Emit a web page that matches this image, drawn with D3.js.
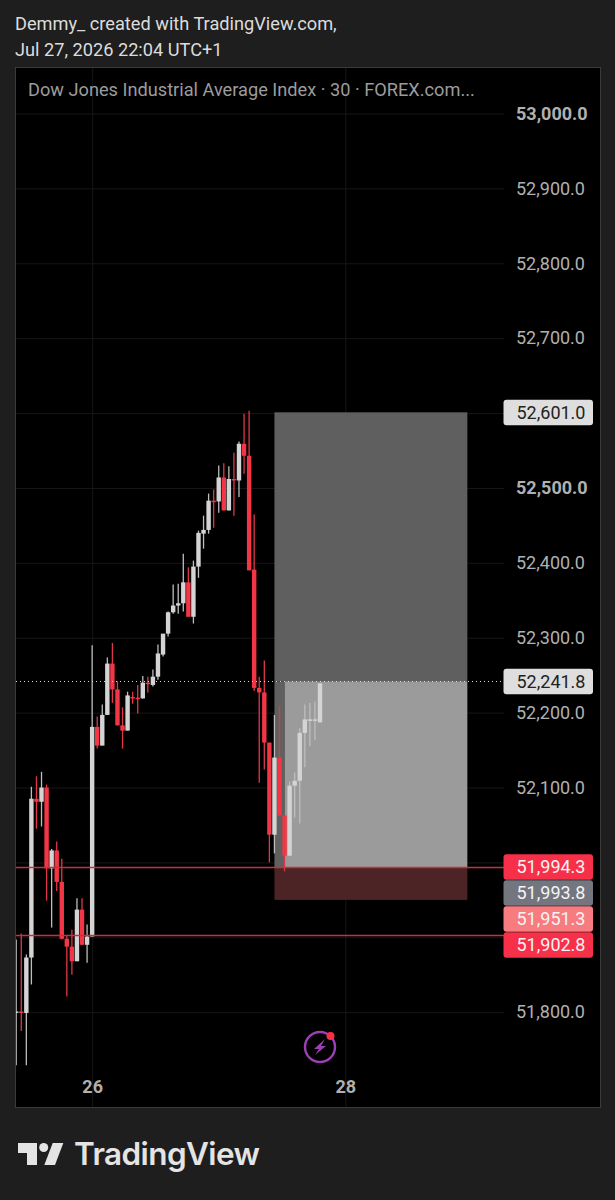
<!DOCTYPE html>
<html>
<head>
<meta charset="utf-8">
<script src="https://cdn.jsdelivr.net/npm/d3@7"></script>
<style>
html, body { margin: 0; padding: 0; background: #1e1e1e; }
svg { display: block; }
text { font-family: Roboto, sans-serif; }
</style>
</head>
<body>
<svg id="chart" width="615" height="1200"></svg>
<script>
// candles (30 min bars)
var open  = [51799,51801,51799,51873,52085,52081,52100,51992,52016,51974,51898,51887.5,51868,51937,51890,51901,52181,52156,52197,52265.5,52231,52183,52176,52221,52220,52219,52240,52237,52248,52277.5,52305.5,52334,52343,52346,52374,52328,52395,52439,52444,52483,52482,52514,52470,52512,52510,52559,52543,52391,52233,52227,52160,52037,52140,52062.5,52009,52102.5,52109,52173,52191,52191,52187];
var high  = [51897,51905,51877,52101,52115,52121,52104,52018,52028,52005,51902,51910,51952,51952,51917,52290,52195,52211,52273.5,52293,52242,52207,52228,52228,52237,52249,52248,52257.5,52291,52293,52335,52371,52372,52412,52394,52403,52443,52463,52492.5,52498,52530,52533,52529,52547,52562,52599,52603,52464.5,52248,52269.5,52160,52197,52209,52062.5,52108,52120,52179,52211,52213,52215,52239];
var low   = [51729,51775,51729,51837,52045,52048,51949,51913,51962,51897,51821,51850,51868,51890,51866,51901,52152,52156,52197,52213,52183,52152,52176,52212,52199,52219,52227,52235,52244,52275,52301.5,52332,52332,52335,52328,52319,52380,52419,52439,52447,52467,52470,52470,52463,52488,52519,52390,52229,52106.5,52124,52000,52012,52062.5,51988,52009,52060,52052,52127,52155,52163,52187];
var close = [51801,51799,51873,52085,52081,52100,51992,52016,51974,51898,51887.5,51868,51937,51890,51901,52181,52156,52197,52265.5,52231,52183,52176,52223,52220,52219,52240,52239,52248,52279,52305.5,52334,52343,52346,52374,52328,52395,52440,52444,52483,52482,52514,52470,52512,52510,52559,52543,52390,52233,52227,52160,52037,52140,52062.5,52009,52102.5,52109,52173,52191,52191,52191,52239];

var priceTicks = [53000,52900,52800,52700,52600,52500,52400,52300,52200,52100,52000,51900,51800];
var priceLabels = [53000,52900,52800,52700,52500,52400,52300,52200,52100,51800];
var boldPrices = [53000,52500];
var timeTicks = [15,65];
var timeLabels = ["26","28"];

var targetPrice = 52601.0, lastPrice = 52241.8, stopLine = 51994.3, stopPrice = 51951.3, lowLine = 51902.8;
var boxStart = 51.0, fillStart = 53.0, boxEnd = 89.1;

// stacked tags on the price axis: value, background, text colour
var tagValues = [52601.0,52241.8,51994.3,51993.8,51951.3,51902.8];
var tagFills  = ["#dedede","#dedede","#f7304a","#73767f","#f77c80","#f7304a"];
var tagInks   = ["#222222","#222222","#f4f4f4","#f4f4f4","#f4f4f4","#f4f4f4"];

var svg = d3.select("#chart");
var fmt = d3.format(",.1f");

var x = d3.scaleLinear().domain([0,60]).range([16.2,320]);
var y = d3.scaleLinear().domain([53000,51800]).range([113.5,1012.2]);

/*	header */
svg.append("text").attr("x",15).attr("y",30).attr("fill","#dcdcdc").style("font-size","18.2px").text("Demmy_ created with TradingView.com,");
svg.append("text").attr("x",15).attr("y",56).attr("fill","#dcdcdc").style("font-size","18.2px").text("Jul 27, 2026 22:04 UTC+1");

/*	pane */
svg.append("rect").attr("x",15.5).attr("y",67.5).attr("width",585).attr("height",1040).attr("fill","#000").attr("stroke","#3a3a3a");

var clip = svg.append("clipPath").attr("id","pane").append("rect").attr("x",16).attr("y",68).attr("width",488).attr("height",1039);
var plot = svg.append("g").attr("clip-path","url(#pane)");

/*	grid, drawn from axes with long ticks */
var gridY = plot.append("g").attr("transform","translate(16,0)")
	.call(d3.axisRight(y).tickValues(priceTicks).tickSize(488).tickFormat(""));
gridY.select(".domain").remove();
gridY.selectAll("line").attr("stroke","#161616");

var gridX = plot.append("g").attr("transform","translate(0,1107)")
	.call(d3.axisTop(x).tickValues(timeTicks).tickSize(1039).tickFormat(""));
gridX.select(".domain").remove();
gridX.selectAll("line").attr("stroke","#161616");

/*	position tool */
plot.append("rect").attr("x",x(boxStart)).attr("width",x(boxEnd)-x(boxStart))
	.attr("y",y(targetPrice)).attr("height",y(lastPrice)-y(targetPrice)).attr("fill","#5f5f5f");
plot.append("rect").attr("x",x(boxStart)).attr("width",x(fillStart)-x(boxStart))
	.attr("y",y(lastPrice)).attr("height",y(stopLine)-y(lastPrice)+1).attr("fill","#606060");
plot.append("rect").attr("x",x(fillStart)).attr("width",x(boxEnd)-x(fillStart))
	.attr("y",y(lastPrice)).attr("height",y(stopLine)-y(lastPrice)+1).attr("fill","#9b9b9b");
plot.append("rect").attr("x",x(boxStart)).attr("width",x(boxEnd)-x(boxStart))
	.attr("y",y(stopLine)+1).attr("height",y(stopPrice)-y(stopLine)).attr("fill","#4c2426");

/*	candles */
var bars = d3.range(open.length);
var up = function(i) { return close[i] >= open[i]; };

plot.append("g").selectAll("line").data(bars).join("line")
	.attr("x1",function(i) { return x(i); })
	.attr("x2",function(i) { return x(i); })
	.attr("y1",function(i) { return y(high[i]); })
	.attr("y2",function(i) { return y(low[i]); })
	.attr("stroke",function(i) { return up(i) ? "#bdbdbd" : "#e0384a"; })
	.attr("stroke-width",1.3);

plot.append("g").selectAll("rect").data(bars).join("rect")
	.attr("x",function(i) { return x(i)-2.2; })
	.attr("width",4.4)
	.attr("y",function(i) { return y(Math.max(open[i],close[i])); })
	.attr("height",function(i) { return Math.max(1.5,Math.abs(y(open[i])-y(close[i]))); })
	.attr("fill",function(i) { return up(i) ? "#d4d4d4" : "#f23645"; });

/*	level lines, a little over a pixel wide so the red survives in the photograph */
function level(price) {
	var py = Math.round(y(price))+0.5;
	plot.append("line").attr("x1",16).attr("x2",504).attr("y1",py).attr("y2",py)
		.attr("stroke","#c9303e").attr("stroke-width",1.6);
}
level(stopLine);
level(lowLine);
var lastY = Math.round(y(lastPrice))+0.5;
plot.append("line").attr("x1",16).attr("x2",504).attr("y1",lastY).attr("y2",lastY)
	.attr("stroke","#d8d8d8").attr("stroke-dasharray","1 3");

/*	title */
svg.append("text").attr("x",28).attr("y",96).attr("fill","#9c9c9c").style("font-size","18.2px")
	.text("Dow Jones Industrial Average Index \u00b7 30 \u00b7 FOREX.com...");

/*	price axis */
var axisY = svg.append("g").attr("transform","translate(504,0)")
	.call(d3.axisRight(y).tickValues(priceLabels).tickSize(0).tickPadding(12).tickFormat(fmt));
axisY.select(".domain").remove();
axisY.selectAll("text")
	.attr("fill","#b0b0b0")
	.style("font-family","Roboto, sans-serif")
	.style("font-size","18px")
	.style("font-weight",function(d) { return boldPrices.indexOf(d) >= 0 ? 700 : 400; });

/*	time axis */
var axisX = svg.append("g").attr("transform","translate(0,1080)")
	.call(d3.axisBottom(x).tickValues(timeTicks).tickSize(0).tickPadding(0)
		.tickFormat(function(d,i) { return timeLabels[i]; }));
axisX.select(".domain").remove();
axisX.selectAll("text")
	.attr("fill","#b0b0b0")
	.style("font-family","Roboto, sans-serif")
	.style("font-size","18px")
	.style("font-weight",700);

/*	price tags, pushed down so they do not overlap */
var tagH = 26, lastBottom = -1e9;
var tags = svg.append("g").selectAll("g").data(tagValues).join("g")
	.attr("transform",function(d) {
		var top = Math.max(y(d)-tagH/2+0.5, lastBottom);
		lastBottom = top+tagH;
		return "translate(503.5,"+top+")";
	});
tags.append("rect").attr("width",89.5).attr("height",tagH-0.5).attr("rx",3)
	.attr("fill",function(d,i) { return tagFills[i]; });
tags.append("text").attr("x",13).attr("y",tagH/2).attr("dy","0.35em")
	.attr("fill",function(d,i) { return tagInks[i]; })
	.style("font-size","18px")
	.text(function(d) { return fmt(d); });

/*	flash icon */
var icon = svg.append("g").attr("transform","translate(320,1047)");
icon.append("circle").attr("r",15).attr("fill","none").attr("stroke","#9c3fb5").attr("stroke-width",2.4);
icon.append("path").attr("d","M5,-8 L-6,2 L-1,2 L-5,8 L6,-1 L1,-1 Z").attr("fill","#9c3fb5");
icon.append("circle").attr("cx",10.5).attr("cy",-11).attr("r",4).attr("fill","#f7304a");

/*	footer logo */
var logo = svg.append("g").attr("transform","translate(18,1143)").attr("fill","#e4e4e4");
logo.append("path").attr("d","M0,0 H19 V22 H9 V10 H0 Z");
logo.append("circle").attr("cx",25.7).attr("cy",4.5).attr("r",4.5);
logo.append("path").attr("d","M34.7,0 H45.3 L37,22 H26.3 Z");
svg.append("text").attr("x",74).attr("y",1165).attr("fill","#e4e4e4")
	.style("font-family","Inter, sans-serif").style("font-weight",600).style("font-size","31.5px")
	.style("letter-spacing","-0.6px")
	.text("TradingView");
</script>
</body>
</html>
